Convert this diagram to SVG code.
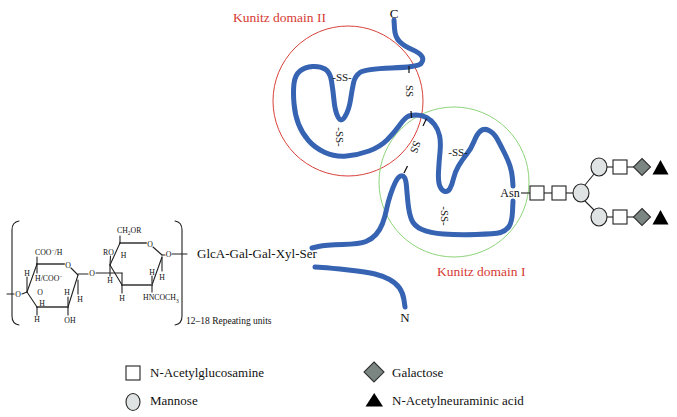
<svg xmlns="http://www.w3.org/2000/svg" width="677" height="417" viewBox="0 0 677 417">
<style>
text{font-family:"Liberation Serif",serif;fill:#111}
.lbl{font-size:13px}
.red{fill:#d63a33}
.ss{font-size:11px}
.chem{font-size:7.8px}
.bond{stroke:#222;stroke-width:1.1;fill:none;stroke-linecap:round}
.thick{stroke:#666;stroke-width:2.2;fill:none;stroke-linecap:round}
.chain{fill:none;stroke:#3763b3;stroke-width:5;stroke-linecap:round;stroke-linejoin:round}
.tick{stroke:#111;stroke-width:1.2}
.gl{stroke:#222;stroke-width:1.1;fill:none}
.sq{fill:#fff;stroke:#222;stroke-width:1.1}
.man{fill:#dfe3e3;stroke:#222;stroke-width:1.1}
.gal{fill:#7b8682;stroke:#333;stroke-width:1.1}
.neu{fill:#000}
</style>
<rect width="677" height="417" fill="#fff"/>

<g id="domain2">
<circle cx="348" cy="101" r="75" fill="none" stroke="#d8413a" stroke-width="1"/>
<text class="lbl red" x="233" y="22" style="font-size:13.5px">Kunitz domain II</text>
</g>
<g id="domain1">
<circle cx="454" cy="182" r="75" fill="none" stroke="#8dd47a" stroke-width="1"/>
<text class="lbl red" x="437" y="276" style="font-size:13.5px">Kunitz domain I</text>
</g>

<g id="chain">
<path class="chain" d="M394,20 L394.5,28.5 Q395,37 399.5,41.5 Q404,46 412,49.5 Q420,53 422,56.5 Q424,60 421,63.5 Q418,67 391.5,68 Q365,69 360,72.5 Q355,76 353.5,83 Q352,90 350.5,100 Q349,110 345,116.5 Q341,123 338,117 Q335,111 334,100.5 Q333,90 331.5,81 Q330,72 325,69 Q320,66 312.5,66.5 Q305,67 300,71 Q295,75 294,83.5 Q293,92 294,103.5 Q295,115 298.5,124 Q302,133 308.5,140.5 Q315,148 325,152.5 Q335,157 346.5,156 Q358,155 369,151 Q380,147 387,140 Q394,133 399,126 Q404,119 407,117 Q410,115 416,115 Q422,115 426.5,117.5 Q431,120 434.5,124.5 Q438,129 439.5,135.5 Q441,142 440,152 Q439,162 438.5,172 Q438,182 440,186.5 Q442,191 445,191.5 Q448,192 450,188.5 Q452,185 453.5,178.5 Q455,172 458.5,166 Q462,160 466.5,154.5 Q471,149 474,141.5 Q477,134 480.5,131 Q484,128 489,130.5 Q494,133 497.5,139.5 Q501,146 504.5,153 Q508,160 510,166 Q512,172 512.5,179 L513,186"/>
<path class="chain" d="M513,201 L512.5,211.5 Q512,222 509,226.5 Q506,231 500.5,232.5 Q495,234 476,234.5 Q457,235 443.5,234 Q430,233 422,229.5 Q414,226 411.5,219.5 Q409,213 408,203 Q407,193 406.5,186.5 Q406,180 404.5,177.5 Q403,175 400.5,176 Q398,177 395.5,182 Q393,187 390.5,194.5 Q388,202 386.5,209.5 Q385,217 382.5,223.5 Q380,230 376,234.5 Q372,239 366,241.5 Q360,244 342.5,244.5 Q325,245 318.5,246.5 L312,248"/>
<path class="chain" d="M315,267 L322.5,267.5 Q330,268 348.5,270 Q367,272 375,274 Q383,276 389.5,279.5 Q396,283 399.5,288 Q403,293 404,300 L405,307"/>
<text class="lbl" x="394" y="18" text-anchor="middle">C</text>
<text class="lbl" x="405" y="322" text-anchor="middle">N</text>
</g>

<g id="disulfides">
<text class="ss" x="342" y="81" text-anchor="middle">-SS-</text>
<text class="ss" transform="translate(340,137) rotate(90)" text-anchor="middle" y="3.8">-SS-</text>
<text class="ss" transform="translate(410,91) rotate(90)" text-anchor="middle" y="3.8">SS</text>
<line class="tick" x1="409" y1="66" x2="409" y2="73"/>
<line class="tick" x1="411" y1="111" x2="411.5" y2="118"/>
<text class="ss" transform="translate(415.5,147) rotate(110)" text-anchor="middle" y="3.8">SS</text>
<line class="tick" x1="426.5" y1="118.5" x2="423" y2="126"/>
<line class="tick" x1="407.5" y1="166" x2="404" y2="173"/>
<text class="ss" x="458" y="156" text-anchor="middle">-SS-</text>
<text class="ss" transform="translate(445,216) rotate(90)" text-anchor="middle" y="3.8">-SS-</text>
</g>

<g id="asn"><text x="510" y="196.5" text-anchor="middle" style="font-size:12px">Asn</text></g>

<g id="connectors">
<line class="gl" x1="521" y1="193" x2="530" y2="193"/>
<line class="gl" x1="544" y1="193" x2="552" y2="193"/>
<line class="gl" x1="566" y1="193" x2="573" y2="193"/>
<line class="gl" x1="585" y1="185" x2="594" y2="174"/>
<line class="gl" x1="585" y1="201" x2="594" y2="210"/>
<line class="gl" x1="607" y1="167" x2="613" y2="167"/>
<line class="gl" x1="607" y1="217" x2="613" y2="217"/>
<line class="gl" x1="627" y1="167" x2="634" y2="167"/>
<line class="gl" x1="627" y1="217" x2="634" y2="217"/>
</g>

<g id="glcnac1"><rect class="sq" x="530" y="186" width="14" height="14"/></g>
<g id="glcnac2"><rect class="sq" x="552" y="186" width="14" height="14"/></g>
<g id="man1"><ellipse class="man" cx="581" cy="193" rx="8" ry="9"/></g>
<g id="man2"><ellipse class="man" cx="599" cy="167" rx="8" ry="9"/></g>
<g id="man3"><ellipse class="man" cx="599" cy="217" rx="8" ry="9"/></g>
<g id="glcnac3"><rect class="sq" x="613" y="160" width="14" height="14"/></g>
<g id="glcnac4"><rect class="sq" x="613" y="210" width="14" height="14"/></g>
<g id="gal1"><polygon class="gal" points="642,158.5 650.5,167 642,175.5 633.5,167"/></g>
<g id="gal2"><polygon class="gal" points="642,208.5 650.5,217 642,225.5 633.5,217"/></g>
<g id="neu1"><polygon class="neu" points="652.5,174.5 668.5,174.5 660.5,160"/></g>
<g id="neu2"><polygon class="neu" points="652.5,224.5 668.5,224.5 660.5,210"/></g>

<g id="gag">
<path class="bond" d="M19,221 Q12,222 12,230 L12,316 Q12,324 19,325"/>
<path class="bond" d="M175,221 Q182,222 182,230 L182,316 Q182,324 175,325"/>
<!-- ring 1 -->
<line class="thick" x1="37" y1="264" x2="64" y2="264"/>
<line class="bond" x1="71" y1="268" x2="78" y2="275"/>
<line class="bond" x1="78" y1="275" x2="68" y2="307"/>
<line class="thick" x1="68" y1="307" x2="37" y2="307"/>
<line class="bond" x1="37" y1="307" x2="27" y2="292"/>
<line class="bond" x1="27" y1="292" x2="37" y2="264"/>
<line class="bond" x1="37" y1="264" x2="37" y2="257"/>
<line class="bond" x1="37" y1="264" x2="37" y2="273"/>
<line class="bond" x1="27" y1="277" x2="27" y2="292"/>
<line class="bond" x1="22" y1="294" x2="27" y2="292"/>
<line class="bond" x1="7" y1="294" x2="14" y2="294"/>
<line class="bond" x1="37" y1="307" x2="37" y2="315"/>
<line class="bond" x1="68" y1="297" x2="68" y2="307"/>
<line class="bond" x1="68" y1="307" x2="68" y2="315"/>
<line class="bond" x1="78" y1="280" x2="78" y2="294"/>
<line class="bond" x1="78" y1="274" x2="88" y2="274"/>
<text class="chem" x="35" y="255">COO<tspan dy="-3" font-size="5.5">−</tspan><tspan dy="3">/H</tspan></text>
<text class="chem" x="35" y="281">H/COO<tspan dy="-3" font-size="5.5">−</tspan></text>
<text class="chem" x="27" y="276" text-anchor="middle">H</text>
<text class="chem" x="18" y="297" text-anchor="middle">O</text>
<text class="chem" x="40" y="294.5" text-anchor="middle">O</text>
<text class="chem" x="42" y="305.5" text-anchor="middle">H</text>
<text class="chem" x="37" y="322" text-anchor="middle">H</text>
<text class="chem" x="67" y="294.5" text-anchor="middle">H</text>
<text class="chem" x="70" y="323" text-anchor="middle">OH</text>
<text class="chem" x="80" y="302" text-anchor="middle">H</text>
<text class="chem" x="68" y="268" text-anchor="middle">O</text>
<text class="chem" x="92" y="276" text-anchor="middle">O</text>
<!-- ring 2 -->
<line class="bond" x1="96" y1="273" x2="122" y2="273"/>
<line class="bond" x1="122" y1="273" x2="122" y2="285"/>
<line class="thick" x1="120" y1="243" x2="146" y2="243"/>
<line class="bond" x1="153" y1="247" x2="162" y2="255"/>
<line class="bond" x1="162" y1="255" x2="165" y2="255"/>
<line class="bond" x1="172" y1="254" x2="187" y2="254"/>
<line class="bond" x1="162" y1="257" x2="152" y2="285"/>
<line class="bond" x1="162" y1="257" x2="162" y2="271"/>
<line class="bond" x1="152" y1="276" x2="152" y2="285"/>
<line class="thick" x1="152" y1="285" x2="122" y2="285"/>
<line class="bond" x1="122" y1="285" x2="110" y2="265"/>
<line class="bond" x1="110" y1="265" x2="120" y2="243"/>
<line class="bond" x1="120" y1="243" x2="120" y2="236"/>
<line class="bond" x1="110.5" y1="256" x2="110" y2="265"/>
<line class="bond" x1="110" y1="265" x2="110" y2="276"/>
<line class="bond" x1="122" y1="285" x2="122" y2="293"/>
<line class="bond" x1="152" y1="285" x2="152" y2="292"/>
<text class="chem" x="117" y="233">CH<tspan dy="2" font-size="5.5">2</tspan><tspan dy="-2">OR</tspan></text>
<text class="chem" x="150" y="247" text-anchor="middle">O</text>
<text class="chem" x="168.5" y="257" text-anchor="middle">O</text>
<text class="chem" x="103" y="254.5">RO</text>
<text class="chem" x="123.5" y="258" text-anchor="middle">H</text>
<text class="chem" x="110" y="283" text-anchor="middle">H</text>
<text class="chem" x="162" y="279.5" text-anchor="middle">H</text>
<text class="chem" x="152" y="274.5" text-anchor="middle">H</text>
<text class="chem" x="122" y="301" text-anchor="middle">H</text>
<text class="chem" x="143" y="299.5">HNCOCH<tspan dy="3" font-size="5.5">3</tspan></text>
<text x="186" y="324" style="font-size:9.5px">12–18 Repeating units</text>
<text class="lbl" x="197" y="258">GlcA-Gal-Gal-Xyl-Ser</text>
</g>

<g id="legend">
<rect class="sq" x="126" y="366" width="14" height="14"/>
<text class="lbl" x="150" y="377">N-Acetylglucosamine</text>
<ellipse class="man" cx="133" cy="402" rx="7" ry="8.5"/>
<text class="lbl" x="150" y="404.5">Mannose</text>
<polygon class="gal" points="374,362 384,372 374,382 364,372"/>
<text class="lbl" x="392" y="377">Galactose</text>
<polygon class="neu" points="365.5,406.5 383,406.5 374.2,393"/>
<text class="lbl" x="392" y="404.5">N-Acetylneuraminic acid</text>
</g>
</svg>
